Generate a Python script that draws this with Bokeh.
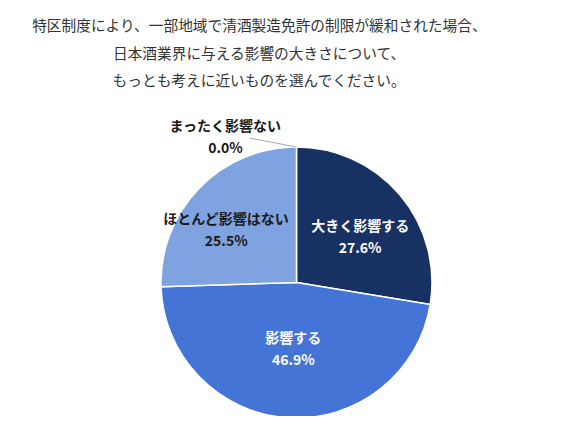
import math
from bokeh.plotting import figure
from bokeh.models import Range1d, ColumnDataSource
from bokeh.core.properties import value
from bokeh.embed import file_html
from bokeh.resources import INLINE

# data
title_lines = [
    "特区制度により、一部地域で清酒製造免許の制限が緩和された場合、",
    "日本酒業界に与える影響の大きさについて、",
    "もっとも考えに近いものを選んでください。",
]
categories = ["大きく影響する", "影響する", "ほとんど影響はない", "まったく影響ない"]
shares = [27.6, 46.9, 25.5, 0.0]
colors = ["#183163", "#4474d5", "#7fa2e0", "#7fa2e0"]
text_colors = ["white", "white", "#1a1a1a", "#1a1a1a"]

# layout (pixels from the top-left of the canvas)
W, H = 550, 416
cx, cy, R = 296, H - 282, 135.5
label_r = [0.583, 0.487, 0.65]
label_shift = [4, -1, -7]  # degrees

p = figure(width=W, height=H, output_backend="svg", toolbar_location=None,
           x_range=Range1d(0, W), y_range=Range1d(0, H), min_border=0)
p.axis.visible = False
p.grid.visible = False
p.outline_line_color = None

total = sum(shares)
starts, ends, cum = [], [], 0.0
for s in shares:
    starts.append(cum / total * 2 * math.pi)
    cum += s
    ends.append(cum / total * 2 * math.pi)

# zero-size slices would be drawn as a full circle, so leave them out
keep = [i for i, s in enumerate(shares) if s > 0]
src = ColumnDataSource(dict(
    start=[math.pi / 2 - ends[i] for i in keep],
    end=[math.pi / 2 - starts[i] for i in keep],
    color=[colors[i] for i in keep],
))
p.wedge(x=cx, y=cy, radius=R, radius_units="screen", start_angle="start", end_angle="end",
        fill_color="color", line_color="white", line_width=1.5, source=src)

font = value("Noto Sans CJK JP")

# inside labels
for i in range(3):
    mid = (starts[i] + ends[i]) / 2 + math.radians(label_shift[i])
    r = R * label_r[i]
    lx = cx + r * math.sin(mid)
    ly = cy + r * math.cos(mid)
    p.text(x=[lx, lx], y=[ly + 11, ly - 11], text=[categories[i], f"{shares[i]:.1f}%"],
           text_font=font, text_font_size="14px", text_font_style="bold",
           text_color=text_colors[i], text_align="center", text_baseline="middle")

# zero slice: leader line and outside label
a0 = starts[3]
ex, ey = cx + R * math.sin(a0), cy + R * math.cos(a0)
p.line(x=[ex, ex - 47], y=[ey, ey + 9], line_color="#aaaaaa", line_width=1)
tx = ex - 71
p.text(x=[tx, tx], y=[ey + 22, ey], text=[categories[3], f"{shares[3]:.1f}%"],
       text_font=font, text_font_size="14px", text_font_style="bold",
       text_color=text_colors[3], text_align="center", text_baseline="middle")

# title
p.text(x=[259] * 3, y=[H - 24, H - 52, H - 79], text=title_lines,
       text_font=font, text_font_size="14.7px", text_color="#333333",
       text_align="center", text_baseline="middle")

open("out.html", "w").write(file_html(p, INLINE))
